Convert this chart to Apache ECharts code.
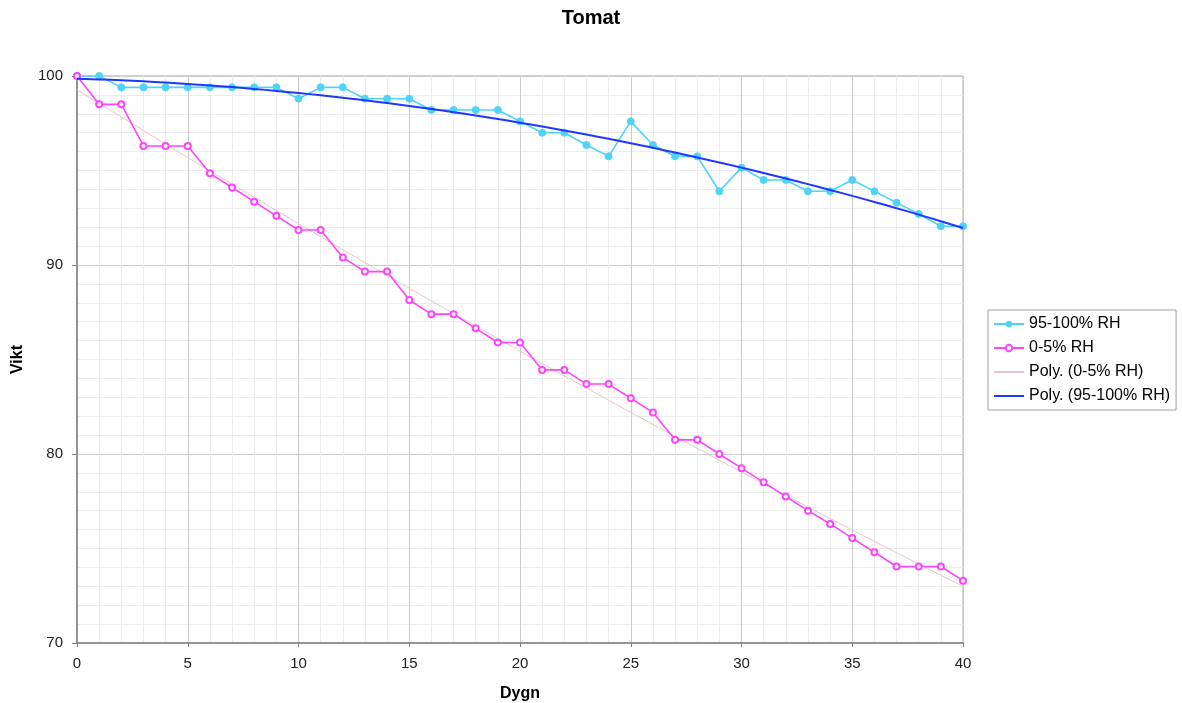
<!DOCTYPE html>
<html>
<head>
<meta charset="utf-8">
<script src="https://cdn.jsdelivr.net/npm/echarts@6/dist/echarts.min.js"></script>
<style>
html,body{margin:0;padding:0;background:#fff;}
#chart{width:1182px;height:703px;}
</style>
</head>
<body>
<div id="chart"></div>
<script>
var days = [];
for (var d = 0; d <= 40; d++) days.push(d);

var rhHigh = [100, 100, 99.4, 99.4, 99.4, 99.4, 99.4, 99.4, 99.4, 99.4,
  98.8, 99.4, 99.4, 98.8, 98.8, 98.8, 98.2, 98.2, 98.2, 98.2,
  97.6, 97.0, 97.0, 96.35, 95.75, 97.6, 96.35, 95.75, 95.75, 93.9,
  95.15, 94.5, 94.5, 93.9, 93.9, 94.5, 93.9, 93.3, 92.7, 92.05, 92.05];

var rhLow = [100, 98.5, 98.5, 96.3, 96.3, 96.3, 94.85, 94.1, 93.35, 92.6,
  91.85, 91.85, 90.4, 89.65, 89.65, 88.15, 87.4, 87.4, 86.65, 85.9,
  85.9, 84.45, 84.45, 83.7, 83.7, 82.95, 82.2, 80.75, 80.75, 80.0,
  79.25, 78.5, 77.75, 77.0, 76.3, 75.55, 74.8, 74.05, 74.05, 74.05, 73.3];

var xTicks = [0, 5, 10, 15, 20, 25, 30, 35, 40];
var yTicks = [70, 80, 90, 100];

var names = ['95-100% RH', '0-5% RH', 'Poly. (0-5% RH)', 'Poly. (95-100% RH)'];

// least-squares polynomial (order 2) trendline, like the spreadsheet's "Poly." trendline
function polyFit(xs, ys, order) {
  var n = order + 1, A = [], b = [];
  for (var i = 0; i < n; i++) {
    A.push([]);
    for (var j = 0; j < n; j++) {
      var s = 0;
      for (var k = 0; k < xs.length; k++) s += Math.pow(xs[k], i + j);
      A[i].push(s);
    }
    var t = 0;
    for (var k2 = 0; k2 < xs.length; k2++) t += ys[k2] * Math.pow(xs[k2], i);
    b.push(t);
  }
  for (var c = 0; c < n; c++) {
    var p = c;
    for (var r = c + 1; r < n; r++) if (Math.abs(A[r][c]) > Math.abs(A[p][c])) p = r;
    var tmp = A[c]; A[c] = A[p]; A[p] = tmp; var tb = b[c]; b[c] = b[p]; b[p] = tb;
    for (var r2 = c + 1; r2 < n; r2++) {
      var f = A[r2][c] / A[c][c];
      for (var cc = c; cc < n; cc++) A[r2][cc] -= f * A[c][cc];
      b[r2] -= f * b[c];
    }
  }
  var coef = new Array(n);
  for (var r3 = n - 1; r3 >= 0; r3--) {
    var s2 = b[r3];
    for (var cc2 = r3 + 1; cc2 < n; cc2++) s2 -= A[r3][cc2] * coef[cc2];
    coef[r3] = s2 / A[r3][r3];
  }
  return coef;
}
function trend(xs, ys) {
  var co = polyFit(xs, ys, 2);
  return xs.map(function (x) { return [x, co[0] + co[1] * x + co[2] * x * x]; });
}
function pairs(xs, ys) { return xs.map(function (x, i) { return [x, ys[i]]; }); }

var chart = echarts.init(document.getElementById('chart'));
var font = 'Liberation Sans, Arial, sans-serif';
chart.setOption({
  animation: false,
  backgroundColor: '#ffffff',
  title: {
    text: 'Tomat', left: 'center', top: 3,
    textStyle: { fontFamily: font, fontSize: 20, fontWeight: 'bold', color: '#000' }
  },
  legend: {
    orient: 'vertical', left: 988, top: 310,
    itemWidth: 30, itemHeight: 8, itemGap: 8,
    padding: [6, 6, 6, 5],
    borderColor: '#a0a0a0', borderWidth: 1,
    textStyle: { fontFamily: font, fontSize: 16, color: '#000' },
    data: [
      { name: names[0] },
      { name: names[1] },
      { name: names[2], itemStyle: { opacity: 0 } },
      { name: names[3], itemStyle: { opacity: 0 } }
    ]
  },
  grid: {
    left: 77, right: 219, top: 76, bottom: 60,
    outerBoundsMode: 'none', containLabel: false,
    show: true, borderColor: '#a6a6a6', borderWidth: 1
  },
  xAxis: {
    type: 'value', min: xTicks[0], max: xTicks[xTicks.length - 1], interval: 5,
    name: 'Dygn', nameLocation: 'middle', nameGap: 43,
    nameTextStyle: { fontFamily: font, fontSize: 16, fontWeight: 'bold', color: '#000' },
    axisLine: { show: true, lineStyle: { color: '#808080', width: 1.5 } },
    axisTick: { show: true, length: 4, lineStyle: { color: '#808080' } },
    axisLabel: { fontFamily: font, fontSize: 15, color: '#222', margin: 13 },
    splitLine: { show: true, lineStyle: { color: '#cccccc' } },
    minorTick: { show: false, splitNumber: 5 },
    minorSplitLine: { show: true, lineStyle: { color: '#ececec' } }
  },
  yAxis: {
    type: 'value', min: yTicks[0], max: yTicks[yTicks.length - 1], interval: 10,
    name: 'Vikt', nameLocation: 'middle', nameGap: 51, nameRotate: 90,
    nameTextStyle: { fontFamily: font, fontSize: 16, fontWeight: 'bold', color: '#000' },
    axisLine: { show: true, lineStyle: { color: '#808080', width: 1.5 } },
    axisTick: { show: true, length: 5, lineStyle: { color: '#808080' } },
    axisLabel: { fontFamily: font, fontSize: 15, color: '#222', margin: 14 },
    splitLine: { show: true, lineStyle: { color: '#cccccc' } },
    minorTick: { show: false, splitNumber: 10 },
    minorSplitLine: { show: true, lineStyle: { color: '#ececec' } }
  },
  series: [
    {
      name: names[0], type: 'line', data: pairs(days, rhHigh),
      symbol: 'circle', symbolSize: 7,
      lineStyle: { color: '#4fd3f7', width: 1.6 },
      itemStyle: { color: '#4fd3f7', borderColor: '#4fd3f7' },
      z: 3
    },
    {
      name: names[1], type: 'line', data: pairs(days, rhLow),
      symbol: 'emptyCircle', symbolSize: 6,
      lineStyle: { color: '#ff44ff', width: 1.6 },
      itemStyle: { color: '#ff44ff', borderColor: '#ff44ff', borderWidth: 1.5 },
      z: 3
    },
    {
      name: names[2], type: 'line', data: trend(days, rhLow),
      symbol: 'none', smooth: true,
      lineStyle: { color: '#e6c3c8', width: 1 },
      itemStyle: { color: '#e6c3c8' },
      z: 2
    },
    {
      name: names[3], type: 'line', data: trend(days, rhHigh),
      symbol: 'none', smooth: true,
      lineStyle: { color: '#1f38ff', width: 2 },
      itemStyle: { color: '#1f38ff' },
      z: 4
    }
  ]
});
</script>
</body>
</html>
